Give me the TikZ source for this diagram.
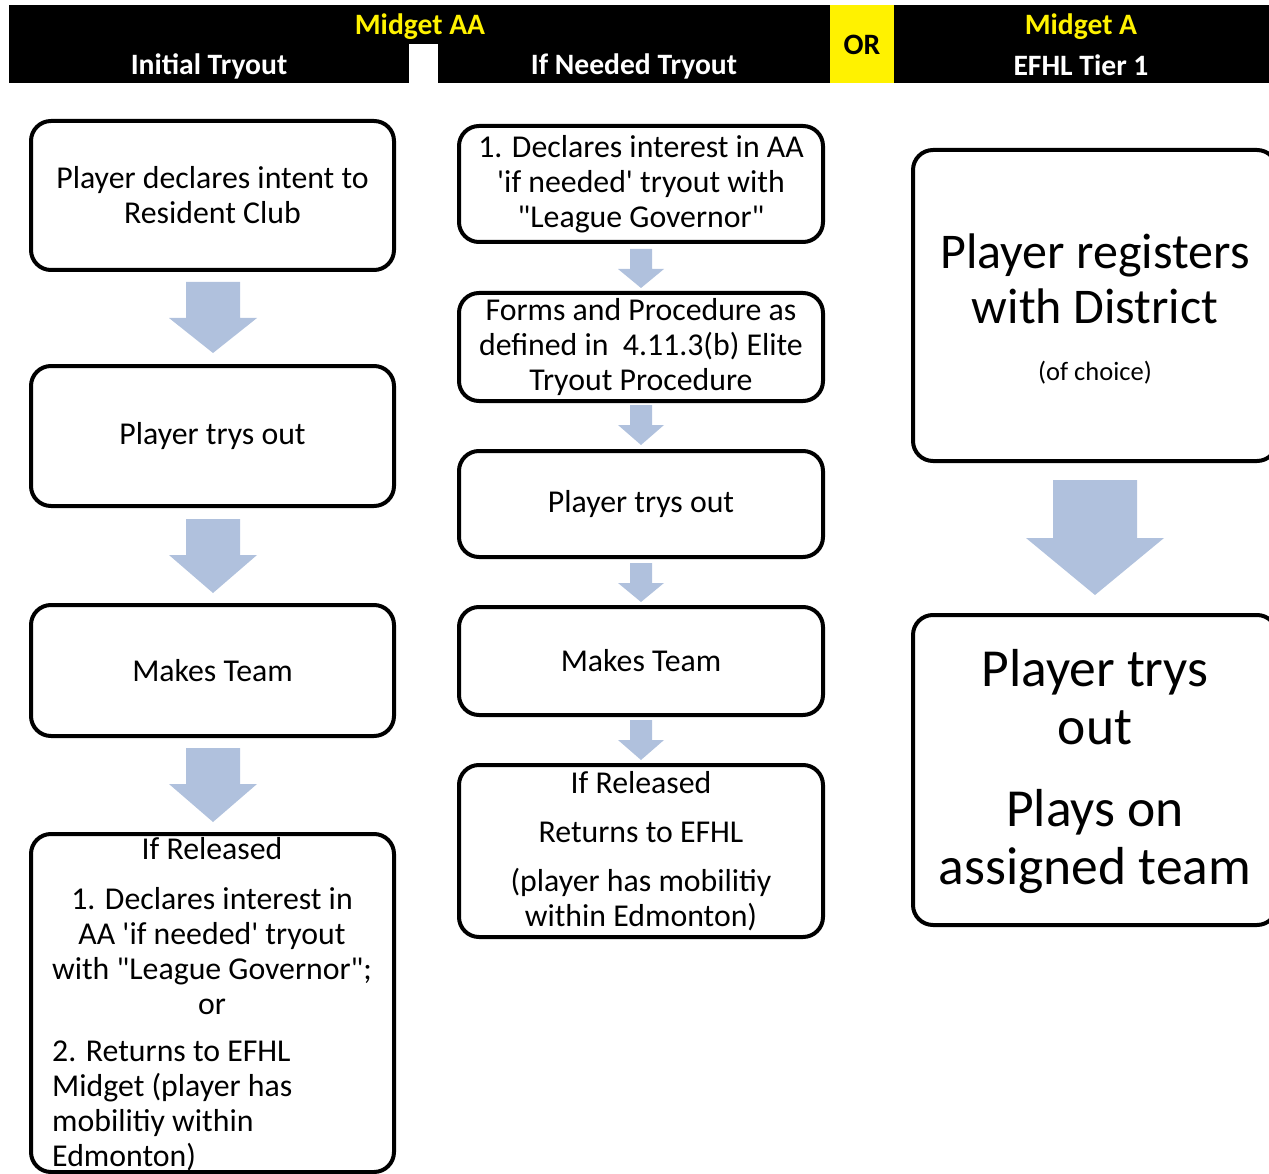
\documentclass[tikz,border=0pt]{standalone}
\usepackage{fontspec}
\setmainfont{Carlito}[Ligatures=TeXOff]
\definecolor{arrowblue}{RGB}{176,193,221}
\newcommand{\blkarr}[6]{%
  \fill[arrowblue] ({#1-#5},#2) -- ({#1+#5},#2) -- ({#1+#5},#3) -- ({#1+#6},#3) -- (#1,#4) -- ({#1-#6},#3) -- ({#1-#5},#3) -- cycle;}
\tikzset{
  box/.style={draw, line width=4pt, rounded corners=20pt, fill=white, inner sep=0pt, align=center, font=\fontsize{31.8}{35}\selectfont},
  txt/.style={inner sep=0pt, align=center, font=\fontsize{31.8}{35}\selectfont},
  hdr/.style={inner sep=0pt, font=\fontsize{29.6}{32}\selectfont\bfseries},
}
\begin{document}
\begin{tikzpicture}[x=1pt,y=-1pt]
\useasboundingbox (0,0) rectangle (1269,1174);
\clip (0,0) rectangle (1269,1174);
% header
\fill[black] (9,5) rectangle (1269,83);
\fill[white] (409,44) rectangle (438,84);
\fill[yellow] (830,5) rectangle (894,83);
\node[hdr, text=yellow] (mAA) at (420,27) {Midget AA};
\node[hdr, text=white] (it) at (209,66) {Initial Tryout};
\node[hdr, text=white] (ifn) at (634,66) {If Needed Tryout};
\node[hdr, text=black] (or) at (862,45) {OR};
\node[hdr, text=yellow] (mA) at (1081,27) {Midget A};
\node[hdr, text=white] (efhl) at (1081,65) {EFHL Tier 1};
% left column
\node[box, minimum width=363pt, minimum height=149pt] (L1) at (212.5,195.5) {Player declares intent to\\Resident Club};
\node[box, minimum width=363pt, minimum height=140pt] (L2) at (212.5,436) {Player trys out};
\node[box, minimum width=363pt, minimum height=131pt] (L3) at (212.5,670.5) {Makes Team};
\node[box, minimum width=363pt, minimum height=338pt] (L4) at (212.5,1003) {};
\node[txt] (L4a) at (212,849) {If Released};
\node[txt] (L4b) at (212,951) {1. Declares interest in\\AA 'if needed' tryout\\with "League Governor";\\or};
\node[txt, align=left, anchor=west] (L4c) at (52,1106) {2. Returns to EFHL\\Midget (player has\\mobilitiy within\\Edmonton)};
\blkarr{213}{282}{318}{353}{27}{44}
\blkarr{213}{519}{555}{593}{27}{44}
\blkarr{213}{748}{784}{822}{27}{44}
% middle column
\node[box, minimum width=364pt, minimum height=116pt] (M1) at (641,184) {1. Declares interest in AA\\'if needed' tryout with\\"League Governor"};
\node[box, minimum width=364pt, minimum height=108pt] (M2) at (641,347) {Forms and Procedure as\\defined in\ \ 4.11.3(b) Elite\\Tryout Procedure};
\node[box, minimum width=364pt, minimum height=106pt] (M3) at (641,504) {Player trys out};
\node[box, minimum width=364pt, minimum height=108pt] (M4) at (641,661) {Makes Team};
\node[box, minimum width=364pt, minimum height=172pt] (M5) at (641,851) {};
\node[txt] (M5t) at (641,851) {If Released\\[14pt]Returns to EFHL\\[14pt](player has mobilitiy\\within Edmonton)};
\blkarr{641}{249}{269}{288}{11}{23}
\blkarr{641}{405}{425}{445}{11}{23}
\blkarr{641}{563}{583}{602}{11}{23}
\blkarr{641}{720}{740}{760}{11}{23}
% right column
\node[box, minimum width=364pt, minimum height=311pt] (R1) at (1095,305.5) {};
\node[inner sep=0pt, align=center, font=\fontsize{50}{55}\selectfont] (R1t) at (1095,279) {Player registers\\with District};
\node[inner sep=0pt, font=\fontsize{26.5}{30}\selectfont] (R1s) at (1095,373) {(of choice)};
\blkarr{1095}{480}{538}{595}{42}{69}
\node[box, minimum width=364pt, minimum height=310pt] (R2) at (1095,770) {};
\node[inner sep=0pt, align=center, font=\fontsize{53.5}{58}\selectfont] (R2t) at (1095,772) {Player trys\\out\\[24pt]Plays on\\assigned team};
\end{tikzpicture}
\end{document}
